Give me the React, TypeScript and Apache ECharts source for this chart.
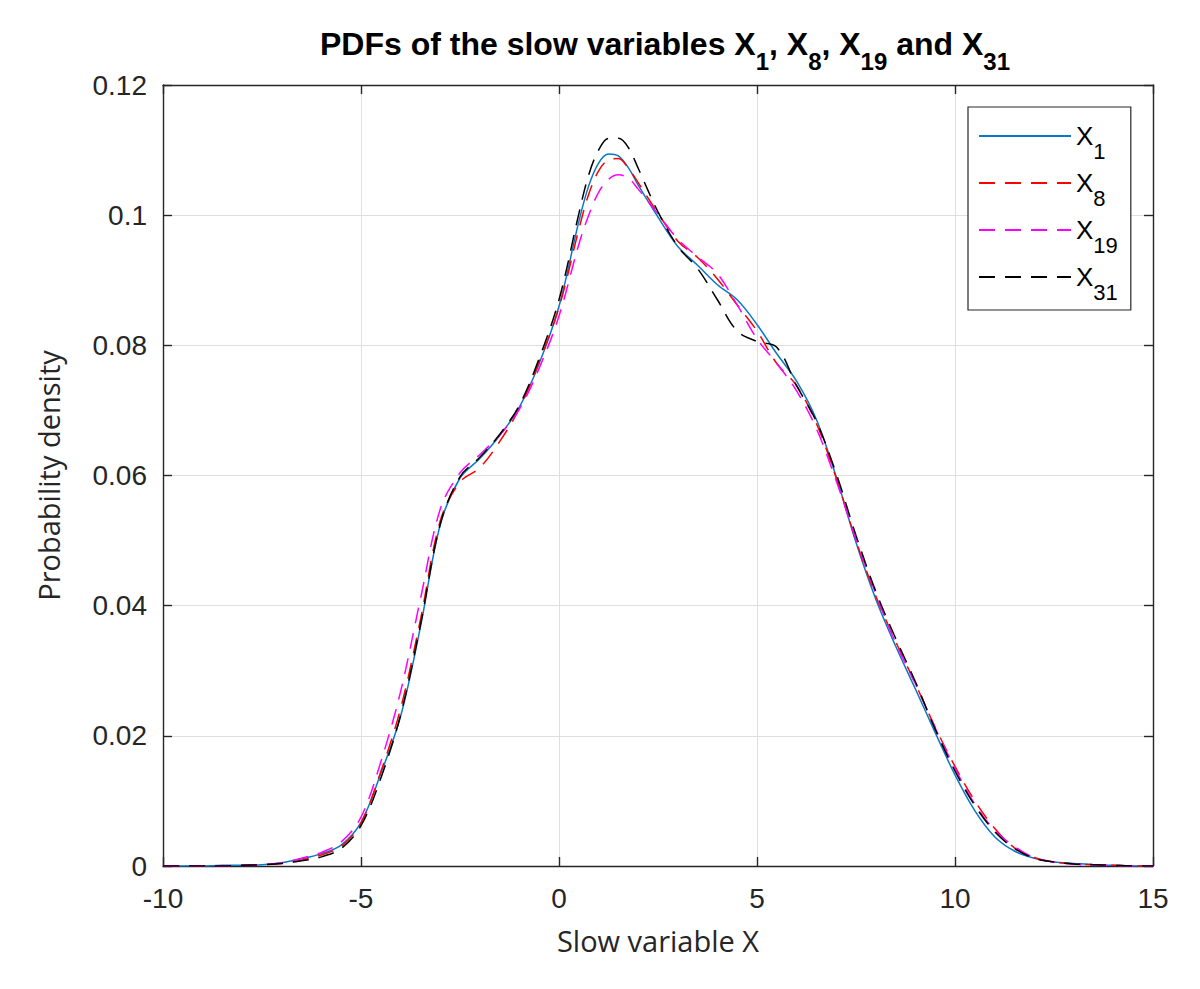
import React, { useEffect, useRef } from "react";
import * as echarts from "echarts";

// x grid shared by all four densities (denser near the peak)
const xs = [
  -10, -9.5, -9, -8.5, -8, -7.5, -7, -6.5, -6, -5.5, -5, -4.5, -4, -3.5, -3, -2.5, -2, -1.5, -1, -0.5,
  0, 0.5, 0.75, 1, 1.25, 1.5, 1.75, 2, 2.5, 3, 3.5, 4, 4.5, 5, 5.5, 6, 6.5, 7, 7.5, 8, 8.5, 9, 9.5,
  10, 10.5, 11, 11.5, 12, 12.5, 13, 13.5, 14, 14.5, 15,
];

const pdfX1 = [
  0, 0, 0, 0.0001, 0.0001, 0.0002, 0.0005, 0.0011, 0.0019, 0.0032, 0.0067, 0.0142, 0.0230, 0.0367,
  0.0524, 0.0596, 0.0626, 0.0661, 0.0705, 0.0772, 0.0860, 0.0990, 0.1045, 0.1080, 0.1094, 0.1091,
  0.1073, 0.1046, 0.0997, 0.0952, 0.0923, 0.0893, 0.0870, 0.0832, 0.0787, 0.0745, 0.0686, 0.0598,
  0.0497, 0.0410, 0.0338, 0.0272, 0.0205, 0.0140, 0.0085, 0.0045, 0.0023, 0.0012, 0.0006, 0.0004,
  0.0002, 0.0001, 0, 0,
];

const pdfX8 = [
  0, 0, 0, 0, 0.0001, 0.0002, 0.0004, 0.0009, 0.0017, 0.0030, 0.0066, 0.0145, 0.0242, 0.0378,
  0.0530, 0.0590, 0.0612, 0.0652, 0.0703, 0.0775, 0.0858, 0.0978, 0.1032, 0.1068, 0.1085, 0.1087,
  0.1072, 0.1050, 0.1003, 0.0960, 0.0935, 0.0902, 0.0862, 0.0822, 0.0772, 0.0738, 0.0680, 0.0596,
  0.0500, 0.0415, 0.0345, 0.0280, 0.0213, 0.0153, 0.0100, 0.0058, 0.0028, 0.0013, 0.0006, 0.0003,
  0.0002, 0.0001, 0, 0,
];

const pdfX19 = [
  0, 0, 0, 0, 0.0001, 0.0002, 0.0005, 0.0012, 0.0021, 0.0037, 0.0075, 0.0160, 0.0268, 0.0410,
  0.0548, 0.0604, 0.0632, 0.0662, 0.0702, 0.0765, 0.0845, 0.0955, 0.1000, 0.1035, 0.1055, 0.1062,
  0.1057, 0.1040, 0.1002, 0.0963, 0.0936, 0.0910, 0.0862, 0.0810, 0.0772, 0.0730, 0.0672, 0.0592,
  0.0502, 0.0418, 0.0343, 0.0280, 0.0212, 0.0150, 0.0095, 0.0055, 0.0030, 0.0013, 0.0006, 0.0003,
  0.0001, 0.0001, 0, 0,
];

const pdfX31 = [
  0, 0, 0, 0, 0.0001, 0.0002, 0.0004, 0.0008, 0.0014, 0.0027, 0.0062, 0.0135, 0.0232, 0.0370,
  0.0525, 0.0598, 0.0628, 0.0663, 0.0708, 0.0780, 0.0870, 0.1002, 0.1062, 0.1100, 0.1118, 0.1118,
  0.1104, 0.1072, 0.1005, 0.0952, 0.0918, 0.0870, 0.0822, 0.0806, 0.0797, 0.0738, 0.0683, 0.0603,
  0.0508, 0.0422, 0.0350, 0.0283, 0.0210, 0.0146, 0.0093, 0.0053, 0.0027, 0.0012, 0.0006, 0.0003,
  0.0002, 0.0001, 0, 0,
];

const seriesNames = ["X1", "X8", "X19", "X31"];
const seriesColors = ["#0a78c6", "#FF0000", "#FF00FF", "#000000"];
const seriesData = [pdfX1, pdfX8, pdfX19, pdfX31];

const axisColor = "#262626";
const arial = "Liberation Sans, Arial, sans-serif";
const dash = [16, 10];

const PdfChart: React.FC = () => {
  const chartRef = useRef<HTMLDivElement>(null);

  useEffect(() => {
    if (!chartRef.current) return;
    document.body.style.margin = "0";
    const chart = echarts.init(chartRef.current, undefined, { renderer: "svg" });

    const tickLabel = { color: axisColor, fontSize: 28, fontFamily: arial };
    const frameLine = { show: true, onZero: false, lineStyle: { color: axisColor, width: 1.4 } };
    const frameTick = { show: true, inside: true, length: 9, lineStyle: { color: axisColor, width: 1.4 } };
    const gridLine = { show: true, lineStyle: { color: "#dfdfdf", width: 1 } };
    const nameStyle = { color: axisColor, fontSize: 29, fontFamily: "Open Sans, sans-serif" };

    const option: echarts.EChartsOption = {
      animation: false,
      backgroundColor: "#ffffff",
      title: {
        text: "{t|PDFs of the slow variables X}{s|1}{t|, X}{s|8}{t|, X}{s|19}{t| and X}{s|31}",
        left: 660,
        top: 10,
        textAlign: "center",
        textStyle: {
          rich: {
            t: { fontSize: 32, fontWeight: "bold", color: "#000", fontFamily: arial, lineHeight: 58 },
            s: {
              fontSize: 24,
              fontWeight: "bold",
              color: "#000",
              fontFamily: arial,
              lineHeight: 58,
              verticalAlign: "bottom",
            },
          },
        },
      },
      legend: {
        orient: "vertical",
        left: 968,
        top: 107,
        backgroundColor: "#ffffff",
        borderColor: axisColor,
        borderWidth: 1.2,
        borderRadius: 0,
        padding: [16, 13, 7, 10],
        itemWidth: 92,
        itemHeight: 14,
        itemGap: 8,
        itemStyle: { opacity: 0 },
        data: seriesNames,
        formatter: (name: string) => `{x|X}{s|${name.slice(1)}}`,
        textStyle: {
          rich: {
            x: { fontSize: 26, color: "#000", fontFamily: arial, lineHeight: 52 },
            s: { fontSize: 22, color: "#000", fontFamily: arial, lineHeight: 52, verticalAlign: "bottom" },
          },
        },
      },
      grid: { left: 163, top: 85, width: 990, height: 781, containLabel: false },
      xAxis: [
        {
          type: "value",
          min: -10,
          max: 15,
          interval: 5,
          name: "Slow variable X",
          nameLocation: "middle",
          nameGap: 60,
          nameTextStyle: nameStyle,
          axisLine: frameLine,
          axisTick: frameTick,
          axisLabel: { ...tickLabel, margin: 18 },
          splitLine: gridLine,
        },
        {
          type: "value",
          position: "top",
          min: -10,
          max: 15,
          interval: 5,
          axisLine: frameLine,
          axisTick: frameTick,
          axisLabel: { show: false },
          splitLine: { show: false },
        },
      ],
      yAxis: [
        {
          type: "value",
          min: 0,
          max: 0.12,
          interval: 0.02,
          name: "Probability density",
          nameLocation: "middle",
          nameGap: 100,
          nameRotate: 90,
          nameTextStyle: nameStyle,
          axisLine: frameLine,
          axisTick: frameTick,
          axisLabel: {
            ...tickLabel,
            margin: 16,
            formatter: (v: number) => String(+v.toFixed(2)),
          },
          splitLine: gridLine,
        },
        {
          type: "value",
          position: "right",
          min: 0,
          max: 0.12,
          interval: 0.02,
          axisLine: frameLine,
          axisTick: frameTick,
          axisLabel: { show: false },
          splitLine: { show: false },
        },
      ],
      series: seriesNames.map((name, i) => ({
        name,
        type: "line",
        xAxisIndex: 0,
        yAxisIndex: 0,
        smooth: 0.35,
        showSymbol: false,
        symbol: "none",
        data: xs.map((x, j) => [x, seriesData[i][j]]),
        itemStyle: { color: seriesColors[i] },
        lineStyle: {
          color: seriesColors[i],
          width: 1.5,
          type: i === 0 ? "solid" : dash,
        },
      })),
    };

    chart.setOption(option);

    return () => {
      chart.dispose();
    };
  }, []);

  return <div ref={chartRef} style={{ width: 1200, height: 989 }} />;
};

export default function App() {
  return <PdfChart />;
}
